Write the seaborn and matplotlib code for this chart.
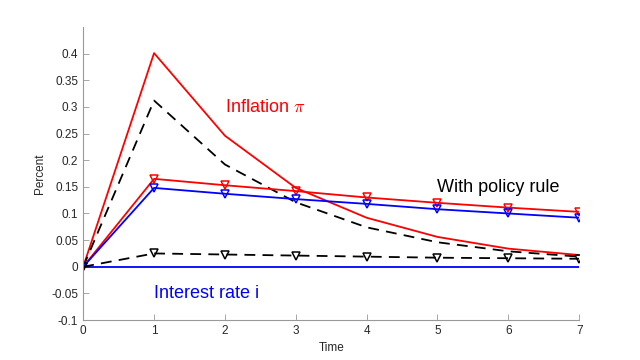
import matplotlib
matplotlib.use("Agg")
import matplotlib.pyplot as plt
import matplotlib.ticker as mticker
import seaborn as sns
import pandas as pd

# periods
time = [0, 1, 2, 3, 4, 5, 6, 7]

# no policy rule
inflation_norule = [0, 0.401, 0.246, 0.148, 0.092, 0.056, 0.034, 0.022]
output_norule = [0, 0.312, 0.192, 0.121, 0.074, 0.046, 0.029, 0.019]
interest_norule = [0, 0, 0, 0, 0, 0, 0, 0]

# with policy rule
inflation_rule = [0, 0.165, 0.153, 0.142, 0.130, 0.120, 0.111, 0.103]
interest_rule = [0, 0.148, 0.137, 0.127, 0.118, 0.108, 0.100, 0.092]
output_rule = [0, 0.025, 0.023, 0.021, 0.019, 0.017, 0.016, 0.015]

df = pd.DataFrame({
    "t": time,
    "pi0": inflation_norule, "y0": output_norule, "i0": interest_norule,
    "pi1": inflation_rule, "i1": interest_rule, "y1": output_rule,
})

sns.set_style("white")
plt.rcParams["font.family"] = ["Liberation Sans", "DejaVu Sans"]
plt.rcParams["mathtext.fontset"] = "cm"

fig = plt.figure(figsize=(6.4, 3.6), dpi=100)
ax = fig.add_axes([0.13, 0.111, 0.775, 0.814])

sns.lineplot(data=df, x="t", y="pi0", color="red", linewidth=1.3, ax=ax)
sns.lineplot(data=df, x="t", y="y0", color="black", linewidth=1.3, ax=ax)
ax.lines[-1].set_linestyle((0, (6, 4)))
sns.lineplot(data=df, x="t", y="i0", color="blue", linewidth=1.3, ax=ax)

mk = dict(marker="v", markersize=5.5, markerfacecolor="none", markeredgewidth=1.1, linewidth=1.3)
sns.lineplot(data=df, x="t", y="pi1", color="red", markeredgecolor="red", ax=ax, **mk)
sns.lineplot(data=df, x="t", y="i1", color="blue", markeredgecolor="blue", ax=ax, **mk)
sns.lineplot(data=df, x="t", y="y1", color="black", markeredgecolor="black", ax=ax, **mk)
ax.lines[-1].set_linestyle((0, (6, 4)))

ax.text(2.0, 0.30, r"Inflation $\pi$", color="red", fontsize=13, va="center")
ax.text(5.0, 0.148, "With policy rule", color="black", fontsize=13, va="center")
ax.text(1.0, -0.05, "Interest rate i", color="blue", fontsize=13, va="center")

ax.set_xlim(0, 7)
ax.set_ylim(-0.1, 0.45)
ax.set_xticks(range(0, 8))
ax.set_yticks([-0.1, -0.05, 0, 0.05, 0.1, 0.15, 0.2, 0.25, 0.3, 0.35, 0.4])
ax.yaxis.set_major_formatter(mticker.FuncFormatter(lambda v, p: f"{v:g}"))
ax.set_xlabel("Time", fontsize=8.5, labelpad=4)
ax.set_ylabel("Percent", fontsize=8.5, labelpad=4)

ax.tick_params(direction="in", length=4, width=0.6, labelcolor="#262626",
               color="#999999", labelsize=8.5, bottom=True, left=True)
for side in ["top", "right"]:
    ax.spines[side].set_visible(False)
for side in ["left", "bottom"]:
    ax.spines[side].set_color("#999999")
    ax.spines[side].set_linewidth(0.8)

fig.savefig("out.png", dpi=100)
